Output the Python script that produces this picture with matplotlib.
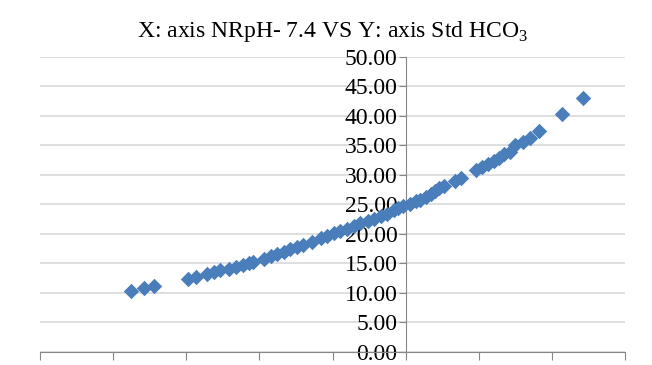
import matplotlib.pyplot as plt
from matplotlib.ticker import FormatStrFormatter, MultipleLocator

# NRpH - 7.4 (x) and Std HCO3 (y)
nrph = [-0.188, -0.179, -0.172,
        -0.149, -0.143, -0.136, -0.131, -0.127, -0.121, -0.116, -0.111, -0.107, -0.104,
        -0.097, -0.092, -0.088, -0.083, -0.079, -0.074, -0.070, -0.064, -0.058, -0.054,
        -0.049, -0.045, -0.040, -0.035, -0.031, -0.026, -0.022, -0.017, -0.013, -0.008,
        -0.005, -0.002,
        0.003, 0.007, 0.010, 0.014, 0.017, 0.020, 0.023, 0.026, 0.034, 0.038,
        0.048, 0.052, 0.056, 0.060, 0.064, 0.067, 0.071, 0.075, 0.080, 0.085,
        0.091, 0.107, 0.121]
std_hco3 = [10.4, 10.9, 11.2,
            12.4, 12.7, 13.2, 13.5, 13.8, 14.1, 14.4, 14.8, 15.0, 15.2,
            15.8, 16.2, 16.6, 17.0, 17.4, 17.8, 18.1, 18.6, 19.3, 19.6,
            20.1, 20.5, 20.9, 21.3, 21.8, 22.2, 22.6, 23.0, 23.4, 24.0,
            24.4, 24.7,
            25.0, 25.5, 25.8, 26.3, 26.8, 27.2, 27.7, 28.2, 28.9, 29.4,
            30.8, 31.3, 31.8, 32.4, 32.9, 33.5, 33.9, 35.0, 35.6, 36.3,
            37.5, 40.3, 43.0]

plt.rcParams['font.family'] = ['Liberation Serif', 'DejaVu Serif']
plt.rcParams['mathtext.fontset'] = 'custom'
plt.rcParams['mathtext.rm'] = 'Liberation Serif'

fig = plt.figure(figsize=(6.52, 3.65), dpi=100)
ax = fig.add_axes([0.061, 0.036, 0.898, 0.808])

ax.scatter(nrph, std_hco3, marker='D', s=62, color='#4a7ebb', zorder=3, linewidths=0)

ax.set_xlim(-0.25, 0.15)
ax.set_ylim(0, 50)
ax.xaxis.set_major_locator(MultipleLocator(0.05))
ax.yaxis.set_major_locator(MultipleLocator(5))
ax.yaxis.set_major_formatter(FormatStrFormatter('%.2f'))
ax.set_xticklabels([])

ax.spines['left'].set_position(('data', 0))
ax.spines['top'].set_visible(False)
ax.spines['right'].set_visible(False)
for s in ('left', 'bottom'):
    ax.spines[s].set_color('#868686')
    ax.spines[s].set_zorder(2)

ax.grid(axis='y', color='#d9d9d9', linewidth=1.2, zorder=0)
ax.tick_params(axis='y', labelsize=17, length=5, color='#868686', pad=1)
ax.tick_params(axis='x', length=6, color='#868686')

ax.set_title(r'X: axis NRpH- 7.4 VS Y: axis Std HCO$_\mathrm{3}$', fontsize=17, pad=14)

fig.savefig('out.png', dpi=100)
